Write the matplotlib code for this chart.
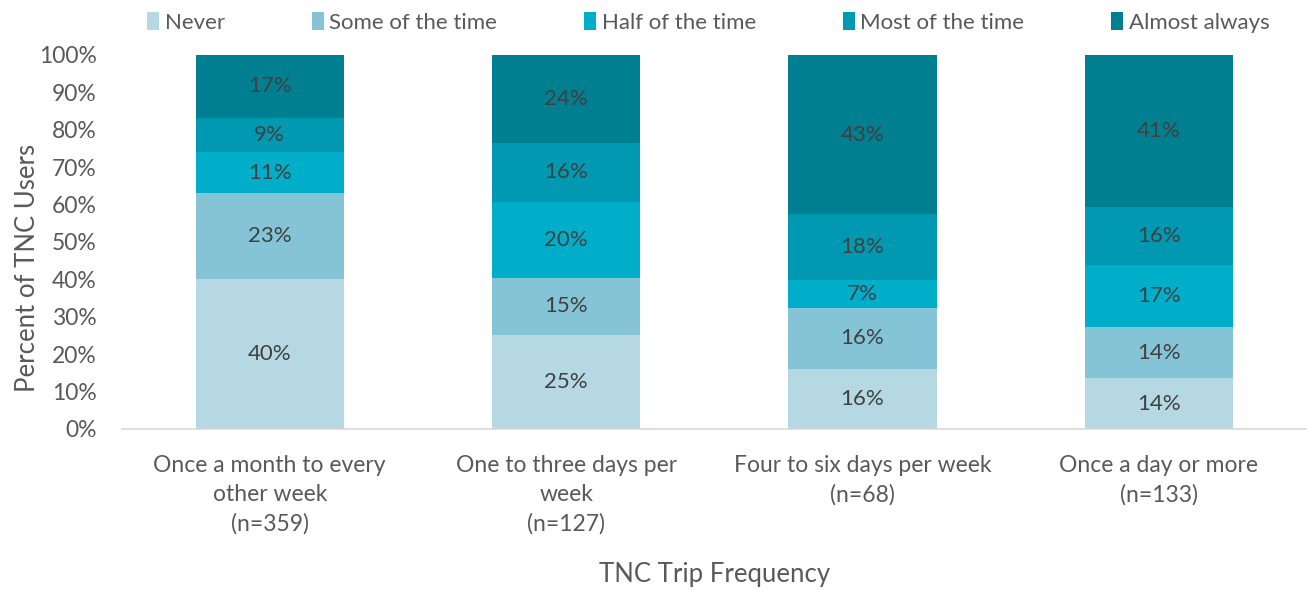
import matplotlib.pyplot as plt
import numpy as np

plt.rcParams['font.family'] = ['Lato', 'DejaVu Sans']

categories = ["Once a month to every\nother week\n(n=359)",
              "One to three days per\nweek\n(n=127)",
              "Four to six days per week\n(n=68)",
              "Once a day or more\n(n=133)"]
series = ["Never", "Some of the time", "Half of the time", "Most of the time", "Almost always"]
never = [40.1, 25.1, 16.0, 13.5]
some = [23.0, 15.3, 16.4, 13.8]
half = [10.9, 20.3, 7.4, 16.6]
most = [9.2, 15.8, 17.6, 15.5]
always = [16.8, 23.5, 42.6, 40.6]
colors = ["#B5D8E3", "#85C4D6", "#00AECA", "#0099B1", "#007F91"]

values = [never, some, half, most, always]

fig = plt.figure(figsize=(13.07, 5.9), dpi=100)
ax = fig.add_axes([0.093, 0.273, 0.907, 0.634])

x = np.arange(len(categories))
bottom = np.zeros(len(categories))
for name, vals, c in zip(series, values, colors):
    vals = np.array(vals)
    ax.bar(x, vals, 0.5, bottom=bottom, color=c, label=name)
    for xi, b, v in zip(x, bottom, vals):
        ax.text(xi, b + v / 2, f"{round(v):.0f}%", ha="center", va="center",
                fontsize=16, color="#404040")
    bottom += vals

ax.set_xlim(-0.5, 3.5)
ax.set_ylim(0, 100)
ax.set_yticks(np.arange(0, 101, 10))
ax.set_yticklabels([f"{t}%" for t in range(0, 101, 10)])
ax.set_xticks(x)
ax.set_xticklabels(categories, linespacing=1.45)
ax.tick_params(axis="both", length=0, labelsize=16.5, labelcolor="#595959")
ax.tick_params(axis="x", pad=19)
ax.tick_params(axis="y", pad=18)
for s in ["top", "right", "left"]:
    ax.spines[s].set_visible(False)
ax.spines["bottom"].set_color("#D9D9D9")
ax.spines["bottom"].set_linewidth(1.2)

ax.set_ylabel("Percent of TNC Users", fontsize=18.5, color="#595959")
ax.yaxis.set_label_coords(-0.069, 0.43)
ax.set_xlabel("TNC Trip Frequency", fontsize=18.5, color="#595959", labelpad=20)

ax.legend(loc="lower center", bbox_to_anchor=(0.495, 1.035), ncol=5, frameon=False,
          fontsize=16, labelcolor="#595959", handlelength=0.55, handleheight=0.9,
          handletextpad=0.25, columnspacing=3.9, borderaxespad=0)

fig.savefig("out.png", dpi=100)
